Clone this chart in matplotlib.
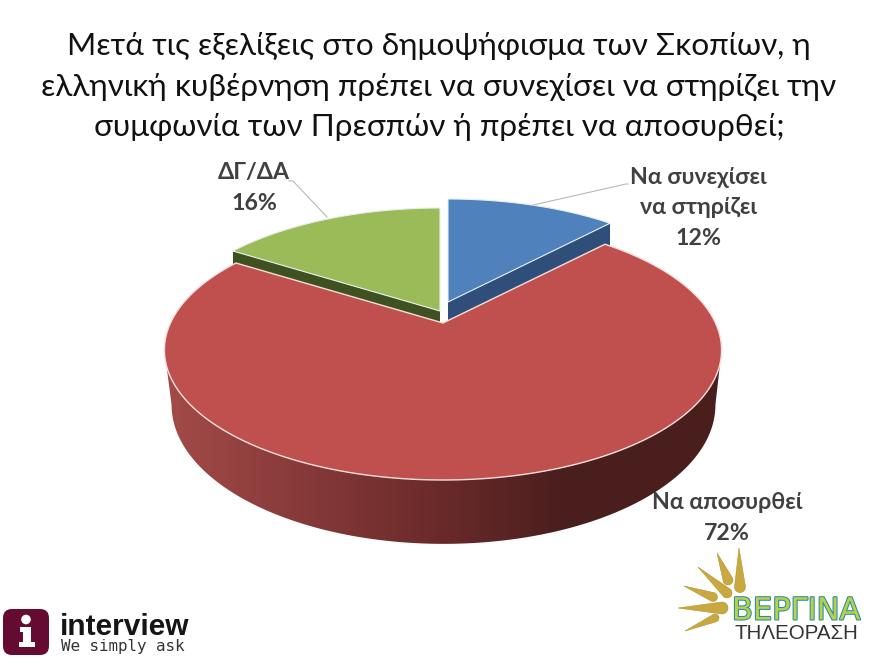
import numpy as np
import matplotlib
matplotlib.use("Agg")
import matplotlib.pyplot as plt
import matplotlib.patheffects as pe
from matplotlib.patches import Polygon, FancyBboxPatch, Circle
from matplotlib.colors import LinearSegmentedColormap

labels = ["Να συνεχίσει\nνα στηρίζει", "Να αποσυρθεί", "ΔΓ/ΔΑ"]
values = [12, 72, 16]
title = ("Μετά τις εξελίξεις στο δημοψήφισμα των Σκοπίων, η\n"
         "ελληνική κυβέρνηση πρέπει να συνεχίσει να στηρίζει την\n"
         "συμφωνία των Πρεσπών ή πρέπει να αποσυρθεί;")
top_colors = ["#4f81bd", "#bf504d", "#9bbb59"]
wall_colors = ["#2f4f7a", "#6e2b2a", "#3f5120"]
apexes = [(448, 302), (443, 323), (440, 311)]

plt.rcParams['font.family'] = ['Lato', 'Open Sans', 'DejaVu Sans']
fig = plt.figure(figsize=(8.8, 6.59), dpi=100)
ax = fig.add_axes([0, 0, 1, 1])

A, B, K = 124.4, 272.5, 0.2077

def project(apex, th, a=A, b=B):
    z = np.cos(th)
    return apex[0] + b * np.sin(th) / (1 + K * z), apex[1] - a * z / (1 + K * z)

edges = np.deg2rad(np.cumsum([0] + values) * 3.6)
spans = list(zip(edges[:-1], edges[1:]))

def wedge(i):
    t = np.linspace(spans[i][0], spans[i][1], 200)
    x, y = project(apexes[i], t)
    return np.r_[apexes[i][0], x], np.r_[apexes[i][1], y]

# inner walls and tops of the two rear slices
for i in (0, 2):
    ap = apexes[i]
    a = spans[i][1] if i == 0 else spans[i][0]
    cx, cy = project(ap, a)
    ax.add_patch(Polygon([(ap[0], ap[1]), (cx, cy), (cx, cy + 24), (ap[0], ap[1] + 24)],
                         fc=wall_colors[i], ec='none', zorder=2))
    x, y = wedge(i)
    ax.add_patch(Polygon(np.c_[x, y], fc=top_colors[i], ec='#e8eef0', lw=0.8, zorder=3))

# outer wall of the large slice: only the front part, between the two silhouette points
t0 = np.arccos(-K)
t = np.linspace(t0, 2 * np.pi - t0, 361)
xt, yt = project(apexes[1], t)
xb, yb = project((443.5, 376), t, a=133.0, b=266.0)
wall = Polygon(np.r_[np.c_[xt, yt], np.c_[xb, yb][::-1]], closed=True, transform=ax.transData,
               fc='none', ec='none')
ax.add_patch(wall)
cmap = LinearSegmentedColormap.from_list("wall", [
    (0.0, "#a34b49"), (0.24, "#873a39"), (0.49, "#6b2a2a"), (0.71, "#4b1f1e"), (1.0, "#4a1e1d")])
im = ax.imshow(np.linspace(0, 1, 556)[None, :], extent=(165, 722, 550, 250), cmap=cmap, vmin=0, vmax=1,
               aspect='auto', interpolation='bilinear', zorder=4)
im.set_clip_path(wall)
xr, yr = wedge(1)
ax.add_patch(Polygon(np.c_[xr, yr], fc=top_colors[1], ec='#f3dfdb', lw=1.0, zorder=5))

ax.set_xlim(0, 880); ax.set_ylim(659, 0); ax.axis('off')

# data labels and leader lines
lab = dict(ha='center', va='center', color='#404040', fontsize=16.7, fontweight='bold',
           linespacing=1.55, zorder=8)
ax.text(698, 208, f"{labels[0]}\n{values[0]}%", **lab)
ax.text(727, 518, f"{labels[1]}\n{values[1]}%", **lab)
ax.text(254, 188, f"{labels[2]}\n{values[2]}%", **lab)
ax.plot([533, 626, 628], [205, 184, 184], color='#b8b8b8', lw=0.8, zorder=6)
ax.plot([327, 293, 289], [217, 181, 181], color='#b8b8b8', lw=0.8, zorder=6)

ax.text(439, 86.5, title, ha='center', va='center', fontsize=22.65, color='#111111', linespacing=1.55, zorder=8)

# interview logo
ax.add_patch(FancyBboxPatch((8, 614), 36, 36, boxstyle="round,pad=5,rounding_size=9",
                            fc='#650a30', ec='none', zorder=6))
ax.add_patch(Circle((26, 619.5), 4.8, fc='white', ec='none', zorder=7))
ax.add_patch(Polygon([(20, 627), (31, 627), (31, 642), (35, 642), (35, 647), (19, 647),
                      (19, 642), (23, 642), (23, 632), (20, 632)], fc='white', ec='none', zorder=7))
ax.text(60, 627, "interview", fontfamily='Liberation Sans', fontsize=21.5, fontweight='bold',
        color='#151515', ha='left', va='center', zorder=7)
ax.text(61, 647, "We simply ask", fontfamily='DejaVu Sans Mono', fontsize=11.4,
        color='#333333', ha='left', va='center', zorder=7)

# Vergina TV logo
ray_bulbs = [(740, 587, 5.5), (728, 580, 5), (727, 593, 5), (713, 597, 4.5), (722, 608, 6), (715, 618, 4)]
ray_tips = [(739, 548), (717, 553), (698, 567), (684, 586), (678, 608), (685, 631)]
for (bx, by, w), (tx, ty) in zip(ray_bulbs, ray_tips):
    dx, dy = tx - bx, ty - by
    n = np.hypot(dx, dy)
    ux, uy = dx / n, dy / n
    px, py = -uy, ux
    arc = [(bx + w * (-np.cos(a) * ux + np.sin(a) * px), by + w * (-np.cos(a) * uy + np.sin(a) * py))
           for a in np.linspace(-np.pi / 2, np.pi / 2, 14)]
    ax.add_patch(Polygon(arc + [(tx, ty)], fc='#c9a840', ec='#b3932f', lw=0.4, zorder=6))
ax.text(796, 611, "ΒΕΡΓΙΝΑ", fontfamily='DejaVu Sans', fontsize=22, color='#b5d24c',
        ha='center', va='center', zorder=7,
        path_effects=[pe.withStroke(linewidth=1.5, foreground='#2c8a9c')])
ax.text(796, 633.5, "ΤΗΛΕΟΡΑΣΗ", fontfamily='Liberation Sans', fontsize=14.8, color='#333333',
        ha='center', va='center', zorder=7)

fig.savefig("out.png", dpi=100, facecolor='white')
